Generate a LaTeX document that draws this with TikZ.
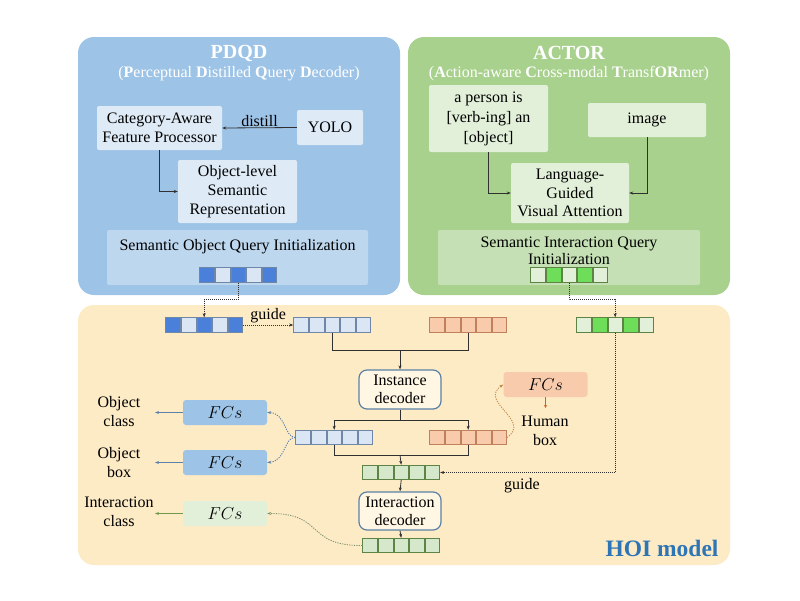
\documentclass[tikz,border=0pt]{standalone}
\usepackage{fontspec}
\setmainfont{Liberation Serif}
\usetikzlibrary{arrows.meta}
\definecolor{pdqdbg}{HTML}{9DC3E6}
\definecolor{actorbg}{HTML}{A9D18E}
\definecolor{hoibg}{HTML}{FDEBC6}
\definecolor{pin}{HTML}{DEEBF7}
\definecolor{pq}{HTML}{BDD7EE}
\definecolor{gin}{HTML}{E2F0D9}
\definecolor{gq}{HTML}{C5E0B4}
\definecolor{sqdark}{HTML}{4A80DA}
\definecolor{sqlight}{HTML}{DAE6F4}
\definecolor{sqedge}{HTML}{6F86A6}
\definecolor{gbright}{HTML}{6EDD5A}
\definecolor{glight}{HTML}{E2F0D9}
\definecolor{gmid}{HTML}{D6E8CC}
\definecolor{gedge}{HTML}{5E8445}
\definecolor{osq}{HTML}{F8CBAD}
\definecolor{oedge}{HTML}{C0805C}
\definecolor{decedge}{HTML}{5B80A5}
\definecolor{decfill}{HTML}{FFF6E3}
\definecolor{blarr}{HTML}{5A80AB}
\definecolor{grarr}{HTML}{6F9A4B}
\definecolor{grdot}{HTML}{7F9470}
\definecolor{ordot}{HTML}{C98A4A}
\definecolor{orarr}{HTML}{D0602A}
\definecolor{hoitxt}{HTML}{2E75B6}
\definecolor{dk}{HTML}{303030}
\newcommand\myseq[5]{%
  \foreach \c [count=\i] in {#5} {\node[sq,draw=#4,fill=\c] (#1-\i) at ({#2+15.6*(\i-1)},#3) {};}}
\begin{document}
\begin{tikzpicture}[x=1pt,y=-1pt,
  font=\fontsize{16}{19}\selectfont,
  panel/.style={rectangle,rounded corners=16pt,draw=none,inner sep=0pt},
  ibox/.style={rectangle,rounded corners=2pt,draw=none,align=center,inner sep=1pt},
  sq/.style={rectangle,minimum width=14.6pt,minimum height=14.6pt,inner sep=0pt,line width=0.8pt},
  fcbox/.style={rectangle,rounded corners=3pt,draw=none,minimum width=84pt,minimum height=25pt,inner sep=0pt},
  dec/.style={rectangle,rounded corners=8pt,draw=decedge,line width=1.2pt,fill=decfill,minimum width=82pt,align=center,inner sep=1pt,font=\fontsize{16}{18}\selectfont},
  arr/.style={draw=dk,line width=0.8pt,-{Stealth[length=4pt,width=3pt]}},
  ln/.style={draw=dk,line width=0.8pt},
  dotarr/.style={draw=dk,line width=0.8pt,dash pattern=on 1pt off 1pt,-{Stealth[length=4pt,width=3pt]}},
  cdot/.style={line width=0.9pt,dash pattern=on 1.2pt off 1.2pt,-{Stealth[length=4pt,width=3pt]}},
  lbl/.style={align=center,inner sep=1pt}
]
\useasboundingbox (0,0) rectangle (800,600);
% panels
\node[panel,fill=pdqdbg,minimum width=322pt,minimum height=258pt] (pdqd) at (239,166) {};
\node[panel,fill=actorbg,minimum width=322pt,minimum height=258pt] (actor) at (569,166) {};
\node[panel,fill=hoibg,minimum width=652pt,minimum height=260pt] (hoi) at (404,435) {};
% PDQD
\node[white,font=\fontsize{20}{22}\selectfont\bfseries] (pdqdt) at (239,53) {PDQD};
\node[white] (pdqds) at (239,74) {(\textbf{P}erceptual \textbf{D}istilled \textbf{Q}uery \textbf{D}ecoder)};
\node[ibox,fill=pin,minimum width=125pt,minimum height=44pt] (cafp) at (159.5,128) {Category-Aware\\Feature Processor};
\node[ibox,fill=pin,minimum width=66pt,minimum height=35pt] (yolo) at (330,127.5) {YOLO};
\node[ibox,fill=pin,minimum width=119pt,minimum height=63pt] (olsr) at (237.5,191.5) {Object-level\\Semantic\\Representation};
\node[ibox,fill=pq,minimum width=261pt,minimum height=55pt] (soqi) at (237.5,257.5) {};
\node[lbl] (soqit) at (237.5,247) {Semantic Object Query Initialization};
\draw[arr] (yolo.west) -- (cafp.east) node[midway,above,inner sep=1pt] {distill};
\draw[arr] (cafp.south) |- (olsr.west);
\myseq{dq}{207}{275}{sqedge}{sqdark,sqlight,sqdark,sqlight,sqdark}
% ACTOR
\node[white,font=\fontsize{20}{22}\selectfont\bfseries] (actt) at (569,53) {ACTOR};
\node[white] (acts) at (569,74) {(\textbf{A}ction-aware \textbf{C}ross-modal \textbf{T}ransf\textbf{OR}mer)};
\node[ibox,fill=gin,minimum width=119pt,minimum height=67pt,font=\fontsize{16}{20}\selectfont] (person) at (488.5,118.5) {a person is\\{[verb-ing] an}\\{[object]}};
\node[ibox,fill=gin,minimum width=118pt,minimum height=34pt] (image) at (647,120) {image};
\node[ibox,fill=gin,minimum width=118pt,minimum height=60pt,font=\fontsize{16}{18.5}\selectfont] (lgva) at (570,193) {Language-\\Guided\\Visual Attention};
\node[ibox,fill=gq,minimum width=262pt,minimum height=55pt] (siqi) at (569,257.5) {};
\node[lbl,font=\fontsize{16}{17}\selectfont] (siqit) at (569,251) {Semantic Interaction Query\\Initialization};
\draw[arr] (person.south) |- (lgva.west);
\draw[arr] (image.south) |- (lgva.east);
\myseq{aq}{538}{275}{gedge}{glight,gbright,glight,gbright,glight}
% HOI rows
\myseq{ra}{173}{325}{sqedge}{sqdark,sqlight,sqdark,sqlight,sqdark}
\myseq{rb}{301}{325}{sqedge}{sqlight,sqlight,sqlight,sqlight,sqlight}
\myseq{rc}{437}{325}{oedge}{osq,osq,osq,osq,osq}
\myseq{rd}{584}{325}{gedge}{glight,gbright,glight,gbright,glight}
\myseq{sb}{303}{437.5}{sqedge}{sqlight,sqlight,sqlight,sqlight,sqlight}
\myseq{sc}{437}{437.5}{oedge}{osq,osq,osq,osq,osq}
\myseq{tg}{370}{472.5}{gedge}{gmid,gmid,gmid,gmid,gmid}
\myseq{ug}{370}{545.5}{gedge}{gmid,gmid,gmid,gmid,gmid}
\node[dec,minimum height=39pt] (inst) at (400,389.5) {Instance\\decoder};
\node[dec,minimum height=38pt] (inter) at (400,511) {Interaction\\decoder};
% guides
\draw[dotarr] (dq-3.south) -- ++(0,17) -| (ra-3.north);
\draw[dotarr] (ra-5.east) -- (rb-1.west) node[midway,above,inner sep=2pt,text=black] {guide};
\draw[dotarr] (aq-3.south) -- ++(0,17) -| (rd-3.north);
\draw[dotarr] (rd-3.south) |- (tg-5.east);
\node[lbl] (guide2) at (522,486) {guide};
% main flow
\coordinate (j1) at (400,350);
\coordinate (j2) at (400,420);
\coordinate (j3) at (400,455);
\draw[ln] (rb-3.south) |- (j1);
\draw[ln] (rc-3.south) |- (j1);
\draw[arr] (j1) -- (inst.north);
\draw[ln] (inst.south) -- (j2);
\draw[arr] (j2) -| (sb-3.north);
\draw[arr] (j2) -| (sc-3.north);
\draw[ln] (sb-3.south) |- (j3);
\draw[ln] (sc-3.south) |- (j3);
\draw[arr] (j3) -- (tg-3.north);
\draw[arr] (tg-3.south) -- (inter.north);
\draw[arr] (inter.south) -- (ug-3.north);
% FCs heads
\node[fcbox,fill=pdqdbg] (fc1) at (225,412.5) {$FCs$};
\node[fcbox,fill=pdqdbg] (fc2) at (225,462.5) {$FCs$};
\node[fcbox,fill=gin] (fc3) at (225,513.5) {$FCs$};
\node[fcbox,fill=osq] (fch) at (545.5,384.5) {$FCs$};
\node[lbl] (oc) at (119,412) {Object\\class};
\node[lbl] (ob) at (119,463) {Object\\box};
\node[lbl] (ic) at (119,512) {Interaction\\class};
\node[lbl] (hb) at (545,431) {Human\\box};
\coordinate (oca) at (155,412.5);
\coordinate (oba) at (155,462.5);
\coordinate (ica) at (155,513.5);
\coordinate (hba) at (545.5,408);
\draw[draw=blarr,line width=1pt,-{Stealth[length=4pt,width=3pt]}] (fc1.west) -- (oca);
\draw[draw=blarr,line width=1pt,-{Stealth[length=4pt,width=3pt]}] (fc2.west) -- (oba);
\draw[draw=grarr,line width=1pt,-{Stealth[length=4pt,width=3pt]}] (fc3.west) -- (ica);
\draw[draw=orarr,line width=1pt,-{Stealth[length=3pt,width=3pt]}] (fch.south) -- (hba);
\draw[cdot,draw=blarr] (sb-1.west) .. controls (284,437) and (286,413) .. (fc1.east);
\draw[cdot,draw=blarr] (sb-1.west) .. controls (284,437) and (286,461) .. (fc2.east);
\draw[cdot,draw=grdot] (ug-1.west) .. controls (305,546) and (325,513) .. (fc3.east);
\draw[cdot,draw=ordot] (sc-5.east) .. controls (532,420) and (478,402) .. (fch.west);
% HOI label
\node[text=hoitxt,font=\fontsize{23.5}{26}\selectfont\bfseries] (hoit) at (662,548) {HOI model};
\end{tikzpicture}
\end{document}
